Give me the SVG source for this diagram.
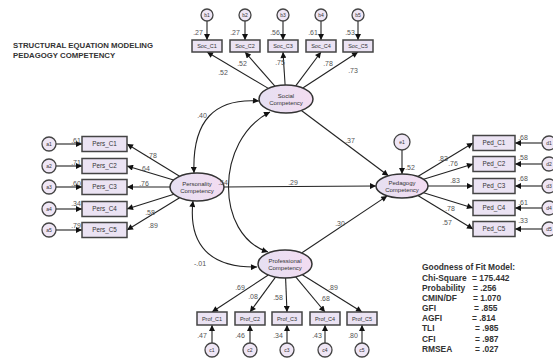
<svg xmlns="http://www.w3.org/2000/svg" width="553" height="360" viewBox="0 0 553 360">
<defs>
<linearGradient id="eg" x1="0" y1="0" x2="1" y2="0">
<stop offset="0" stop-color="#e6e0f2"/>
<stop offset="1" stop-color="#f3dcf1"/>
</linearGradient>
<marker id="ah" viewBox="0 0 10 10" refX="10" refY="5" markerWidth="7" markerHeight="6" markerUnits="userSpaceOnUse" orient="auto-start-reverse">
<path d="M0,0 L10,5 L0,10 z" fill="#111"/>
</marker>
</defs>
<style>
.lat{fill:url(#eg);stroke:#333;stroke-width:1.5}
.obs{fill:#ebe3f3;stroke:#444;stroke-width:1.5}
.err{fill:#efe6f5;stroke:#444;stroke-width:1.3}
.t{font-family:"Liberation Sans",Arial,sans-serif;fill:#333;text-anchor:middle}
.nt{font-size:5.5px}
.bt{font-size:6.3px}
.et{font-size:5px}
.lt{font-size:6px}
.lb{font-family:"Liberation Sans",Arial,sans-serif;font-size:7px;fill:#555;text-anchor:middle}
.c line,.c path{stroke:#222;stroke-width:1.1;fill:none;marker-end:url(#ah)}
.c path.cov{marker-start:url(#ah)}
.h{font-family:"Liberation Sans",Arial,sans-serif;font-weight:bold;fill:#333}
</style>
<rect width="553" height="360" fill="#fff"/>
<text class="h" x="13" y="48" font-size="7.8">STRUCTURAL EQUATION MODELING</text>
<text class="h" x="13" y="58" font-size="7.8">PEDAGOGY COMPETENCY</text>

<g class="c" id="connectors">
<!-- social indicators -->
<line x1="268.3" y1="88.4" x2="207" y2="52"/>
<line x1="274.9" y1="86.2" x2="245" y2="52"/>
<line x1="285.1" y1="85" x2="283" y2="52"/>
<line x1="295.7" y1="85.9" x2="321" y2="52"/>
<line x1="302.8" y1="88" x2="358" y2="52"/>
<line x1="207" y1="21" x2="207" y2="40"/>
<line x1="245" y1="21" x2="245" y2="40"/>
<line x1="283" y1="21" x2="283" y2="40"/>
<line x1="321" y1="21" x2="321" y2="40"/>
<line x1="358" y1="21" x2="358" y2="40"/>
<!-- personality indicators -->
<line x1="179.6" y1="176.3" x2="127" y2="144"/>
<line x1="173.6" y1="180" x2="127" y2="166"/>
<line x1="170" y1="187" x2="127" y2="187"/>
<line x1="173.9" y1="194.3" x2="127" y2="209"/>
<line x1="179.6" y1="197.7" x2="127" y2="230"/>
<line x1="56" y1="144" x2="82" y2="144"/>
<line x1="56" y1="166" x2="82" y2="166"/>
<line x1="56" y1="187" x2="82" y2="187"/>
<line x1="56" y1="209" x2="82" y2="209"/>
<line x1="56" y1="230" x2="82" y2="230"/>
<!-- pedagogy indicators -->
<line x1="417.8" y1="176.5" x2="473" y2="143"/>
<line x1="423.6" y1="179.3" x2="473" y2="164"/>
<line x1="428" y1="186" x2="473" y2="186"/>
<line x1="423.6" y1="192.7" x2="473" y2="208"/>
<line x1="417.8" y1="195.5" x2="473" y2="229"/>
<line x1="542" y1="143" x2="515" y2="143"/>
<line x1="542" y1="164" x2="515" y2="164"/>
<line x1="542" y1="186" x2="515" y2="186"/>
<line x1="542" y1="208" x2="515" y2="208"/>
<line x1="542" y1="229" x2="515" y2="229"/>
<line x1="402" y1="150" x2="402" y2="174"/>
<!-- professional indicators -->
<line x1="268.3" y1="275" x2="212" y2="312"/>
<line x1="275.5" y1="277.1" x2="250" y2="312"/>
<line x1="285.6" y1="278" x2="287" y2="312"/>
<line x1="295.7" y1="276.9" x2="325" y2="312"/>
<line x1="302.3" y1="274.8" x2="362" y2="312"/>
<line x1="212" y1="343" x2="212" y2="325"/>
<line x1="250" y1="343" x2="250" y2="325"/>
<line x1="287" y1="343" x2="287" y2="325"/>
<line x1="325" y1="343" x2="325" y2="325"/>
<line x1="362" y1="343" x2="362" y2="325"/>
<!-- structural paths -->
<line x1="301.4" y1="110.5" x2="388.4" y2="175.8"/>
<line x1="224" y1="187" x2="376" y2="186"/>
<line x1="301.6" y1="253" x2="387.2" y2="195.9"/>
<!-- covariances -->
<path class="cov" d="M194,173 C192,120 215,98 259,101"/>
<path class="cov" d="M193,201 C188,245 210,268 257,267"/>
<path class="cov" d="M270,112 C215,140 215,235 268,252"/>
</g>

<g id="social"><ellipse class="lat" cx="286" cy="99" rx="27" ry="14"/><text class="t lt" x="286" y="97.5">Social</text><text class="t lt" x="286" y="105">Competency</text></g>
<g id="personality"><ellipse class="lat" cx="197" cy="187" rx="27" ry="14"/><text class="t lt" x="197" y="185.5">Personality</text><text class="t lt" x="197" y="193">Competency</text></g>
<g id="pedagogy"><ellipse class="lat" cx="402" cy="186" rx="26" ry="12"/><text class="t lt" x="402" y="184.5">Pedagogy</text><text class="t lt" x="402" y="192">Competency</text></g>
<g id="professional"><ellipse class="lat" cx="285" cy="264" rx="27" ry="14"/><text class="t lt" x="285" y="262.5">Professional</text><text class="t lt" x="285" y="270">Competency</text></g>

<g id="soc-items">
<g id="Soc_C1"><rect class="obs" x="192" y="40" width="30" height="12"/><text class="t nt" x="207" y="48">Soc_C1</text></g>
<g id="Soc_C2"><rect class="obs" x="230" y="40" width="30" height="12"/><text class="t nt" x="245" y="48">Soc_C2</text></g>
<g id="Soc_C3"><rect class="obs" x="268" y="40" width="30" height="12"/><text class="t nt" x="283" y="48">Soc_C3</text></g>
<g id="Soc_C4"><rect class="obs" x="306" y="40" width="30" height="12"/><text class="t nt" x="321" y="48">Soc_C4</text></g>
<g id="Soc_C5"><rect class="obs" x="343" y="40" width="30" height="12"/><text class="t nt" x="358" y="48">Soc_C5</text></g>
</g>
<g id="b-errors">
<g id="b1"><circle class="err" cx="207" cy="15" r="6"/><text class="t et" x="207" y="17">b1</text></g>
<g id="b2"><circle class="err" cx="245" cy="15" r="6"/><text class="t et" x="245" y="17">b2</text></g>
<g id="b3"><circle class="err" cx="283" cy="15" r="6"/><text class="t et" x="283" y="17">b3</text></g>
<g id="b4"><circle class="err" cx="321" cy="15" r="6"/><text class="t et" x="321" y="17">b4</text></g>
<g id="b5"><circle class="err" cx="358" cy="15" r="6"/><text class="t et" x="358" y="17">b5</text></g>
</g>

<g id="pers-items">
<g id="Pers_C1"><rect class="obs" x="82" y="136.5" width="45" height="15"/><text class="t bt" x="104.5" y="146.2">Pers_C1</text></g>
<g id="Pers_C2"><rect class="obs" x="82" y="158.5" width="45" height="15"/><text class="t bt" x="104.5" y="168.2">Pers_C2</text></g>
<g id="Pers_C3"><rect class="obs" x="82" y="179.5" width="45" height="15"/><text class="t bt" x="104.5" y="189.2">Pers_C3</text></g>
<g id="Pers_C4"><rect class="obs" x="82" y="201.5" width="45" height="15"/><text class="t bt" x="104.5" y="211.2">Pers_C4</text></g>
<g id="Pers_C5"><rect class="obs" x="82" y="222.5" width="45" height="15"/><text class="t bt" x="104.5" y="232.2">Pers_C5</text></g>
</g>
<g id="a-errors">
<g id="a1"><circle class="err" cx="49" cy="144" r="7"/><text class="t et" x="49" y="146">a1</text></g>
<g id="a2"><circle class="err" cx="49" cy="166" r="7"/><text class="t et" x="49" y="168">a2</text></g>
<g id="a3"><circle class="err" cx="49" cy="187" r="7"/><text class="t et" x="49" y="189">a3</text></g>
<g id="a4"><circle class="err" cx="49" cy="209" r="7"/><text class="t et" x="49" y="211">a4</text></g>
<g id="a5"><circle class="err" cx="49" cy="230" r="7"/><text class="t et" x="49" y="232">a5</text></g>
</g>

<g id="ped-items">
<g id="Ped_C1"><rect class="obs" x="473" y="135.5" width="42" height="15"/><text class="t bt" x="494" y="145.2">Ped_C1</text></g>
<g id="Ped_C2"><rect class="obs" x="473" y="156.5" width="42" height="15"/><text class="t bt" x="494" y="166.2">Ped_C2</text></g>
<g id="Ped_C3"><rect class="obs" x="473" y="178.5" width="42" height="15"/><text class="t bt" x="494" y="188.2">Ped_C3</text></g>
<g id="Ped_C4"><rect class="obs" x="473" y="200.5" width="42" height="15"/><text class="t bt" x="494" y="210.2">Ped_C4</text></g>
<g id="Ped_C5"><rect class="obs" x="473" y="221.5" width="42" height="15"/><text class="t bt" x="494" y="231.2">Ped_C5</text></g>
</g>
<g id="d-errors">
<g id="d1"><circle class="err" cx="549" cy="143" r="7"/><text class="t et" x="549" y="145">d1</text></g>
<g id="d2"><circle class="err" cx="549" cy="164" r="7"/><text class="t et" x="549" y="166">d2</text></g>
<g id="d3"><circle class="err" cx="549" cy="186" r="7"/><text class="t et" x="549" y="188">d3</text></g>
<g id="d4"><circle class="err" cx="549" cy="208" r="7"/><text class="t et" x="549" y="210">d4</text></g>
<g id="d5"><circle class="err" cx="549" cy="229" r="7"/><text class="t et" x="549" y="231">d5</text></g>
</g>
<g id="e1"><circle class="err" cx="402" cy="142" r="8"/><text class="t et" x="402" y="144">e1</text></g>

<g id="prof-items">
<g id="Prof_C1"><rect class="obs" x="197" y="312" width="30" height="13"/><text class="t nt" x="212" y="320.5">Prof_C1</text></g>
<g id="Prof_C2"><rect class="obs" x="235" y="312" width="30" height="13"/><text class="t nt" x="250" y="320.5">Prof_C2</text></g>
<g id="Prof_C3"><rect class="obs" x="272" y="312" width="30" height="13"/><text class="t nt" x="287" y="320.5">Prof_C3</text></g>
<g id="Prof_C4"><rect class="obs" x="310" y="312" width="30" height="13"/><text class="t nt" x="325" y="320.5">Prof_C4</text></g>
<g id="Prof_C5"><rect class="obs" x="347" y="312" width="30" height="13"/><text class="t nt" x="362" y="320.5">Prof_C5</text></g>
</g>
<g id="c-errors">
<g id="c1"><circle class="err" cx="212" cy="350" r="7"/><text class="t et" x="212" y="352">c1</text></g>
<g id="c2"><circle class="err" cx="250" cy="350" r="7"/><text class="t et" x="250" y="352">c2</text></g>
<g id="c3"><circle class="err" cx="287" cy="350" r="7"/><text class="t et" x="287" y="352">c3</text></g>
<g id="c4"><circle class="err" cx="325" cy="350" r="7"/><text class="t et" x="325" y="352">c4</text></g>
<g id="c5"><circle class="err" cx="362" cy="350" r="7"/><text class="t et" x="362" y="352">c5</text></g>
</g>

<g id="labels">
<text class="lb" x="198" y="34.5">.27</text><text class="lb" x="235" y="34.5">.27</text><text class="lb" x="275" y="34.5">.56</text><text class="lb" x="313" y="34.5">.61</text><text class="lb" x="350" y="34.5">.53</text>
<text class="lb" x="223" y="74.5">.52</text><text class="lb" x="242" y="65.5">.52</text><text class="lb" x="280" y="64.5">.75</text><text class="lb" x="328" y="65.5">.78</text><text class="lb" x="353" y="72.5">.73</text>
<text class="lb" x="202" y="117.5">.40</text><text class="lb" x="223" y="184.5">.54</text><text class="lb" x="293" y="184.5">.29</text><text class="lb" x="350" y="142.5">.37</text><text class="lb" x="340" y="225.5">.30</text><text class="lb" x="200" y="265.5">-.01</text>
<text class="lb" x="76" y="142.5">.61</text><text class="lb" x="76" y="164.5">.71</text><text class="lb" x="76" y="185.5">.60</text><text class="lb" x="76" y="205.5">.34</text><text class="lb" x="76" y="227.5">.79</text>
<text class="lb" x="152" y="157.5">.78</text><text class="lb" x="145" y="170.5">.64</text><text class="lb" x="144" y="185.5">.76</text><text class="lb" x="150" y="214.5">.58</text><text class="lb" x="153" y="227.5">.89</text>
<text class="lb" x="410" y="169.5">.52</text>
<text class="lb" x="443" y="160.5">.83</text><text class="lb" x="453" y="165.5">.76</text><text class="lb" x="455" y="182.5">.83</text><text class="lb" x="450" y="210.5">.78</text><text class="lb" x="447" y="224.5">.57</text>
<text class="lb" x="523" y="139.5">.68</text><text class="lb" x="523" y="159.5">.58</text><text class="lb" x="523" y="180.5">.68</text><text class="lb" x="523" y="204.5">.61</text><text class="lb" x="523" y="222.5">.33</text>
<text class="lb" x="240" y="289.5">.69</text><text class="lb" x="253" y="298.5">.08</text><text class="lb" x="278" y="299.5">.58</text><text class="lb" x="325" y="300.5">.68</text><text class="lb" x="333" y="289.5">.89</text>
<text class="lb" x="202" y="337.5">.47</text><text class="lb" x="240" y="337.5">.46</text><text class="lb" x="278" y="337.5">.34</text><text class="lb" x="317" y="337.5">.43</text><text class="lb" x="353" y="337.5">.80</text>
</g>

<g id="fit" class="h" font-size="8.4">
<text x="422" y="270">Goodness of Fit Model:</text>
<text x="422" y="280.5">Chi-Square</text><text x="472" y="280.5">= 175.442</text>
<text x="422" y="290.5">Probability</text><text x="473" y="290.5">= .256</text>
<text x="422" y="300.5">CMIN/DF</text><text x="473" y="300.5">= 1.070</text>
<text x="422" y="311">GFI</text><text x="474" y="311">= .855</text>
<text x="422" y="321">AGFI</text><text x="472" y="321">= .814</text>
<text x="422" y="331">TLI</text><text x="475" y="331">= .985</text>
<text x="422" y="342">CFI</text><text x="475" y="342">= .987</text>
<text x="422" y="352">RMSEA</text><text x="475" y="352">= .027</text>
</g>
</svg>
